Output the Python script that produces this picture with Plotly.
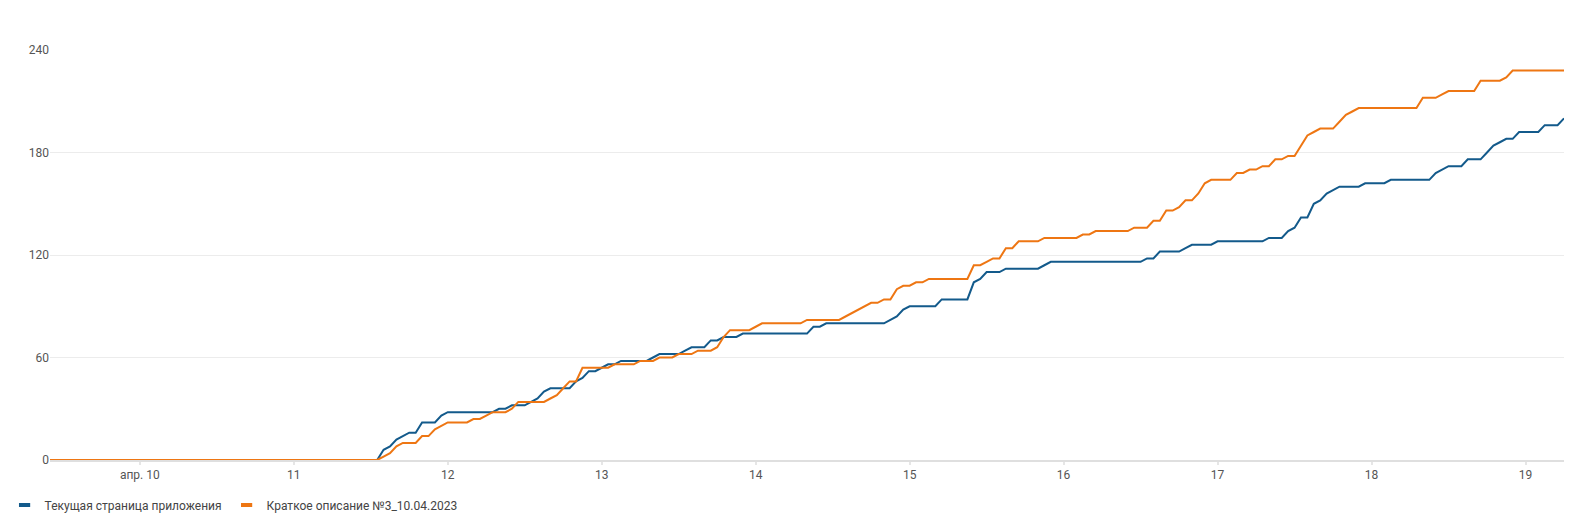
import plotly.graph_objects as go
import pandas as pd

# Hourly cumulative values, starting 2023-04-09 10:00
start_time = "2023-04-09 10:00"

series_names = ["Текущая страница приложения", "Краткое описание №3_10.04.2023"]
series_colors = ["#135a8b", "#ee7613"]

current_page = (
    [0] * 14 +                                                               # Apr 9 10-23h
    [0] * 24 +                                                               # Apr 10
    [0] * 13 + [0, 6, 8, 12, 14, 16, 16, 22, 22, 22, 26] +                   # Apr 11
    [28, 28, 28, 28, 28, 28, 28, 28, 30, 30, 32, 32, 32, 34, 36, 40,
     42, 42, 42, 42, 46, 48, 52, 52] +                                       # Apr 12
    [54, 56, 56, 58, 58, 58, 58, 58, 60, 62, 62, 62, 62, 64, 66, 66,
     66, 70, 70, 72, 72, 72, 74, 74] +                                       # Apr 13
    [74, 74, 74, 74, 74, 74, 74, 74, 74, 78, 78, 80, 80, 80, 80, 80,
     80, 80, 80, 80, 80, 82, 84, 88] +                                       # Apr 14
    [90, 90, 90, 90, 90, 94, 94, 94, 94, 94, 104, 106, 110, 110, 110, 112,
     112, 112, 112, 112, 112, 114, 116, 116] +                               # Apr 15
    [116, 116, 116, 116, 116, 116, 116, 116, 116, 116, 116, 116, 116, 118, 118, 122,
     122, 122, 122, 124, 126, 126, 126, 126] +                               # Apr 16
    [128, 128, 128, 128, 128, 128, 128, 128, 130, 130, 130, 134, 136, 142, 142, 150,
     152, 156, 158, 160, 160, 160, 160, 162] +                               # Apr 17
    [162, 162, 162, 164, 164, 164, 164, 164, 164, 164, 168, 170, 172, 172, 172, 176,
     176, 176, 180, 184, 186, 188, 188, 192] +                               # Apr 18
    [192, 192, 192, 196, 196, 196, 200]                                      # Apr 19 0-6h
)

brief_desc = (
    [0] * 14 +
    [0] * 24 +
    [0] * 13 + [0, 2, 4, 8, 10, 10, 10, 14, 14, 18, 20] +
    [22, 22, 22, 22, 24, 24, 26, 28, 28, 28, 30, 34, 34, 34, 34, 34,
     36, 38, 42, 46, 46, 54, 54, 54] +
    [54, 54, 56, 56, 56, 56, 58, 58, 58, 60, 60, 60, 62, 62, 62, 64,
     64, 64, 66, 72, 76, 76, 76, 76] +
    [78, 80, 80, 80, 80, 80, 80, 80, 82, 82, 82, 82, 82, 82, 84, 86,
     88, 90, 92, 92, 94, 94, 100, 102] +
    [102, 104, 104, 106, 106, 106, 106, 106, 106, 106, 114, 114, 116, 118, 118, 124,
     124, 128, 128, 128, 128, 130, 130, 130] +
    [130, 130, 130, 132, 132, 134, 134, 134, 134, 134, 134, 136, 136, 136, 140, 140,
     146, 146, 148, 152, 152, 156, 162, 164] +
    [164, 164, 164, 168, 168, 170, 170, 172, 172, 176, 176, 178, 178, 184, 190, 192,
     194, 194, 194, 198, 202, 204, 206, 206] +
    [206, 206, 206, 206, 206, 206, 206, 206, 212, 212, 212, 214, 216, 216, 216, 216,
     216, 222, 222, 222, 222, 224, 228, 228] +
    [228, 228, 228, 228, 228, 228, 228]
)

tick_dates = ["2023-04-10", "2023-04-11", "2023-04-12", "2023-04-13", "2023-04-14",
              "2023-04-15", "2023-04-16", "2023-04-17", "2023-04-18", "2023-04-19"]
tick_labels = ["апр. 10", "11", "12", "13", "14", "15", "16", "17", "18", "19"]
y_ticks = [0, 60, 120, 180, 240]

times = pd.date_range(start_time, periods=len(current_page), freq="h")

fig = go.Figure()
for name, vals, col in zip(series_names, [current_page, brief_desc], series_colors):
    fig.add_trace(go.Scatter(x=times, y=vals, mode="lines", name=name,
                             line=dict(color=col, width=2), showlegend=False))
    # legend-only entry with a short dash marker
    fig.add_trace(go.Scatter(x=[None], y=[None], mode="markers", name=name,
                             marker=dict(symbol="line-ew-open", size=8, color=col,
                                         line=dict(color=col, width=4))))

fig.update_layout(
    width=1594, height=518,
    margin=dict(l=42, r=38, t=42, b=66, autoexpand=False),
    paper_bgcolor="white", plot_bgcolor="white",
    font=dict(family="Roboto", size=12, color="#555555"),
    showlegend=True,
    legend=dict(orientation="h", xref="paper", yref="container",
                x=-0.03, y=0.0405, xanchor="left", yanchor="middle",
                font=dict(size=12, color="#444444"), itemwidth=30,
                tracegroupgap=0),
    xaxis=dict(range=[times[0], times[-1]], tickvals=tick_dates, ticktext=tick_labels,
               showgrid=False, showline=True, linecolor="#dfdfdf", linewidth=2,
               ticks="outside", ticklen=3, tickcolor="#e6e6e6", tickwidth=2,
               tickfont=dict(size=12, color="#555555"), zeroline=False),
    yaxis=dict(range=[0, 240], tickvals=y_ticks, showgrid=True, gridcolor="#ececec",
               gridwidth=1, zeroline=False, showline=False, ticks="",
               tickfont=dict(size=12, color="#555555")),
)

fig.write_html("out.html")
